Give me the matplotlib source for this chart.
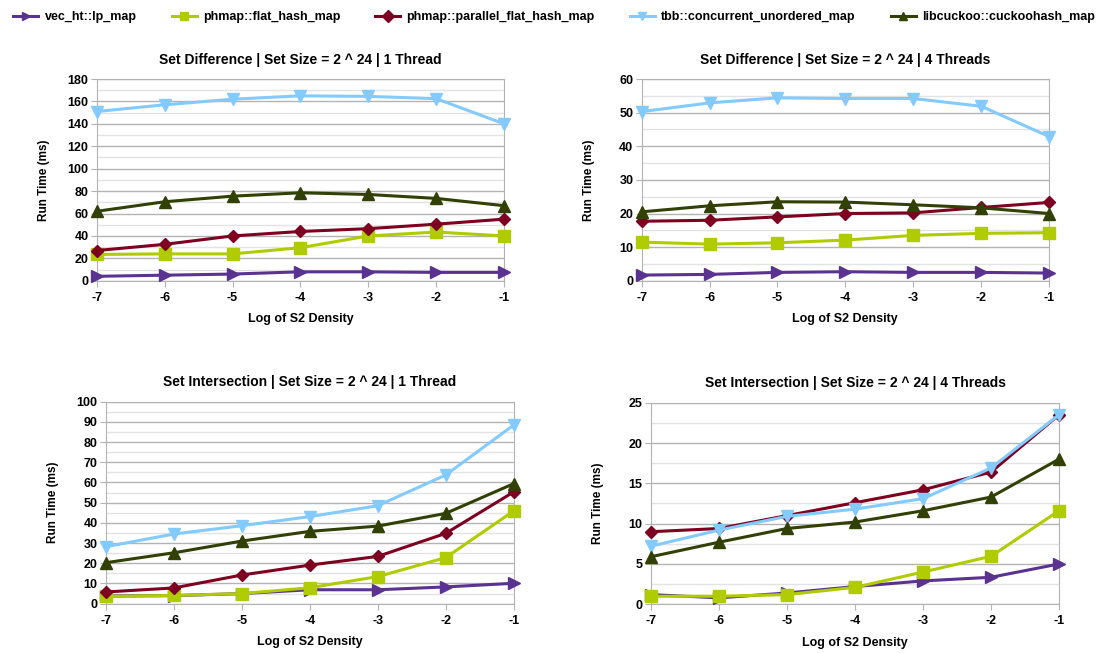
import matplotlib
matplotlib.use("Agg")
import matplotlib.pyplot as plt
from matplotlib.ticker import MultipleLocator
from matplotlib.lines import Line2D

plt.rcParams["font.family"] = ["Liberation Sans", "DejaVu Sans"]
plt.rcParams["font.weight"] = "bold"
plt.rcParams["axes.unicode_minus"] = False

# x axis: log of S2 density
density = [-7, -6, -5, -4, -3, -2, -1]

names = [
    "vec_ht::lp_map",
    "phmap::flat_hash_map",
    "phmap::parallel_flat_hash_map",
    "tbb::concurrent_unordered_map",
    "libcuckoo::cuckoohash_map",
]
colors = ["#5a3290", "#b0cc00", "#7e0021", "#83caff", "#314004"]
markers = [">", "s", "D", "v", "^"]
msizes = [8, 8, 6.5, 8.5, 8]

# Set difference, 1 thread
diff_1t = [
    [4, 5, 6, 8, 8, 7.5, 7.5],
    [23.5, 24, 24, 29.5, 40, 43.5, 40],
    [27, 32.5, 40, 44, 46.5, 50.5, 55],
    [151, 157, 162, 165, 164.5, 162.5, 140],
    [62, 70.5, 75.5, 78.5, 77, 73.5, 67],
]
# Set difference, 4 threads
diff_4t = [
    [1.7, 1.9, 2.5, 2.7, 2.5, 2.5, 2.3],
    [11.5, 10.9, 11.3, 12.1, 13.5, 14.1, 14.3],
    [17.7, 18.0, 19.0, 20.0, 20.2, 21.8, 23.3],
    [50.3, 52.9, 54.4, 54.2, 54.2, 51.9, 42.9],
    [20.5, 22.3, 23.5, 23.4, 22.6, 21.7, 20.0],
]
# Set intersection, 1 thread
inter_1t = [
    [3.8, 4.0, 5.0, 6.9, 6.9, 8.3, 10.1],
    [3.6, 4.1, 5.0, 7.9, 13.4, 22.8, 45.9],
    [5.8, 7.8, 14.2, 19.1, 23.4, 34.8, 55.3],
    [28.2, 34.5, 38.6, 43.1, 48.5, 63.7, 88.4],
    [20.3, 25.2, 31.0, 35.8, 38.4, 44.7, 59.4],
]
# Set intersection, 4 threads
inter_4t = [
    [1.2, 0.8, 1.4, 2.2, 2.9, 3.35, 5.0],
    [1.0, 1.0, 1.2, 2.1, 4.0, 5.95, 11.6],
    [9.0, 9.4, 11.0, 12.6, 14.2, 16.4, 23.5],
    [7.2, 9.2, 10.9, 11.8, 13.1, 16.9, 23.5],
    [5.9, 7.7, 9.4, 10.2, 11.6, 13.3, 18.0],
]

panels = [
    ("Set Difference | Set Size = 2 ^ 24 | 1 Thread", diff_1t, 180, 20,
     [0.0881, 0.570, 0.371, 0.309]),
    ("Set Difference | Set Size = 2 ^ 24 | 4 Threads", diff_4t, 60, 10,
     [0.5844, 0.570, 0.371, 0.309]),
    ("Set Intersection | Set Size = 2 ^ 24 | 1 Thread", inter_1t, 100, 10,
     [0.0965, 0.0755, 0.3713, 0.3094]),
    ("Set Intersection | Set Size = 2 ^ 24 | 4 Threads", inter_4t, 25, 5,
     [0.5929, 0.0746, 0.3716, 0.3087]),
]

fig = plt.figure(figsize=(10.98, 6.53), dpi=100)

for title, series, ymax, step, rect in panels:
    ax = fig.add_axes(rect)
    for vals, c, m, ms in zip(series, colors, markers, msizes):
        ax.plot(density, vals, color=c, marker=m, markersize=ms,
                linewidth=2.2, clip_on=False, zorder=3)

    ax.set_xlim(-7, -1)
    ax.set_ylim(0, ymax)
    ax.xaxis.set_major_locator(MultipleLocator(1))
    ax.yaxis.set_major_locator(MultipleLocator(step))
    ax.yaxis.set_minor_locator(MultipleLocator(step / 2))
    ax.grid(True, which="major", axis="y", color="#b3b3b3", linewidth=1)
    ax.grid(True, which="minor", axis="y", color="#e3e3e3", linewidth=1)
    ax.set_axisbelow(True)
    for sp in ax.spines.values():
        sp.set_color("#b3b3b3")
    ax.tick_params(axis="both", which="major", color="#b3b3b3", length=4,
                   labelsize=9, pad=2)
    ax.tick_params(axis="x", which="major", pad=4)
    ax.tick_params(axis="y", which="minor", length=0)

    ax.set_title(title, fontsize=10, fontweight="bold", pad=11)
    ax.set_xlabel("Log of S2 Density", fontsize=9, fontweight="bold")
    ax.set_ylabel("Run Time (ms)", fontsize=8.5, fontweight="bold")
    ax.xaxis.set_label_coords(0.5, -0.16)
    ax.yaxis.set_label_coords(-0.115, 0.5)

handles = [Line2D([], [], color=c, marker=m, markersize=6, linewidth=2.2)
           for c, m in zip(colors, markers)]
fig.legend(handles, names, loc="center left", bbox_to_anchor=(0.002, 0.974),
           ncol=5, frameon=False, fontsize=9, handlelength=2.0,
           handletextpad=0.5, columnspacing=2.8)

fig.savefig("out.png", dpi=100)
